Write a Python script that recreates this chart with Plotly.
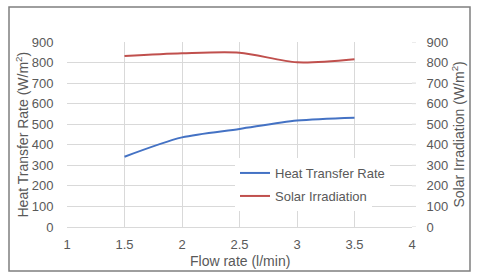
import plotly.graph_objects as go

flow_rate = [1.5, 2, 2.5, 3, 3.5]
heat_transfer = [342, 436, 477, 518, 532]
solar_irradiation = [832, 845, 848, 801, 816]
x_ticks = [1, 1.5, 2, 2.5, 3, 3.5, 4]
y_ticks = [0, 100, 200, 300, 400, 500, 600, 700, 800, 900]

FONT = "Liberation Sans"
GRAY = "#595959"
GRID = "#d9d9d9"

fig = go.Figure()
fig.add_trace(go.Scatter(x=flow_rate, y=heat_transfer, mode="lines", name="Heat Transfer Rate",
                         line=dict(color="#4472C4", width=2, shape="spline", smoothing=0.8),
                         legend="legend"))
fig.add_trace(go.Scatter(x=flow_rate, y=solar_irradiation, mode="lines", name="Solar Irradiation",
                         line=dict(color="#C0504D", width=2, shape="spline", smoothing=0.8),
                         yaxis="y2", legend="legend2"))

W, H = 480, 279
L, R, T, B = 67, 68, 42, 52
pw, ph = W - L - R, H - T - B

def px(x):
    return (x - L) / pw

def py(y):
    return (H - B - y) / ph

legend_common = dict(bgcolor="white", borderwidth=0, font=dict(family=FONT, size=13, color=GRAY),
                     xanchor="left", yanchor="middle", itemwidth=30, tracegroupgap=0)

fig.update_layout(
    width=W, height=H,
    margin=dict(l=L, r=R, t=T, b=B, autoexpand=False),
    paper_bgcolor="white", plot_bgcolor="white",
    font=dict(family=FONT, size=13, color=GRAY),
    showlegend=True,
    legend=dict(x=px(235), y=py(173), **legend_common),
    legend2=dict(x=px(235), y=py(196), **legend_common),
    xaxis=dict(range=[1, 4], tickvals=x_ticks, ticktext=[str(v) for v in x_ticks],
               showgrid=True, gridcolor=GRID, gridwidth=1, zeroline=False,
               showline=True, linecolor=GRID, linewidth=1, automargin=False,
               ticks="outside", ticklen=5, tickcolor="rgba(0,0,0,0)",
               tickfont=dict(family=FONT, size=13, color=GRAY)),
    yaxis=dict(range=[0, 900], tickvals=y_ticks, showgrid=True, gridcolor=GRID, gridwidth=1,
               zeroline=False, showline=False, automargin=False,
               ticks="outside", ticklen=10, tickcolor="rgba(0,0,0,0)",
               tickfont=dict(family=FONT, size=13, color=GRAY)),
    yaxis2=dict(range=[0, 900], tickvals=y_ticks, overlaying="y", side="right", showgrid=False,
                zeroline=False, showline=False, automargin=False,
                ticks="outside", ticklen=11, tickcolor="rgba(0,0,0,0)",
                tickfont=dict(family=FONT, size=13, color=GRAY)),
)

# tick stubs on the right axis (Excel style)
fig.update_layout(shapes=[
    dict(type="line", xref="paper", yref="y", x0=1, x1=px(416), y0=v, y1=v,
         line=dict(color=GRID, width=1), layer="below") for v in y_ticks
])

fig.add_annotation(text="Flow rate (l/min)", xref="paper", yref="paper", x=px(240), y=py(261),
                   showarrow=False, font=dict(family=FONT, size=14, color=GRAY),
                   xanchor="center", yanchor="middle")
fig.add_annotation(text="Heat Transfer Rate (W/m<sup>2</sup>)", xref="paper", yref="paper",
                   x=px(22), y=py(134.5), textangle=-90, showarrow=False,
                   font=dict(family=FONT, size=14, color=GRAY), xanchor="center", yanchor="middle")
fig.add_annotation(text="Solar Irradiation (W/m<sup>2</sup>)", xref="paper", yref="paper",
                   x=px(458), y=py(134.5), textangle=-90, showarrow=False,
                   font=dict(family=FONT, size=14, color=GRAY), xanchor="center", yanchor="middle")

fig.add_shape(type="rect", xref="paper", yref="paper",
              x0=px(9), x1=px(470), y0=py(271), y1=py(7),
              line=dict(color="#7f7f7f", width=1.5), fillcolor="rgba(0,0,0,0)", layer="above")

fig.write_html("out.html", config={"displayModeBar": False},
               post_script="document.body.style.margin='0';")
